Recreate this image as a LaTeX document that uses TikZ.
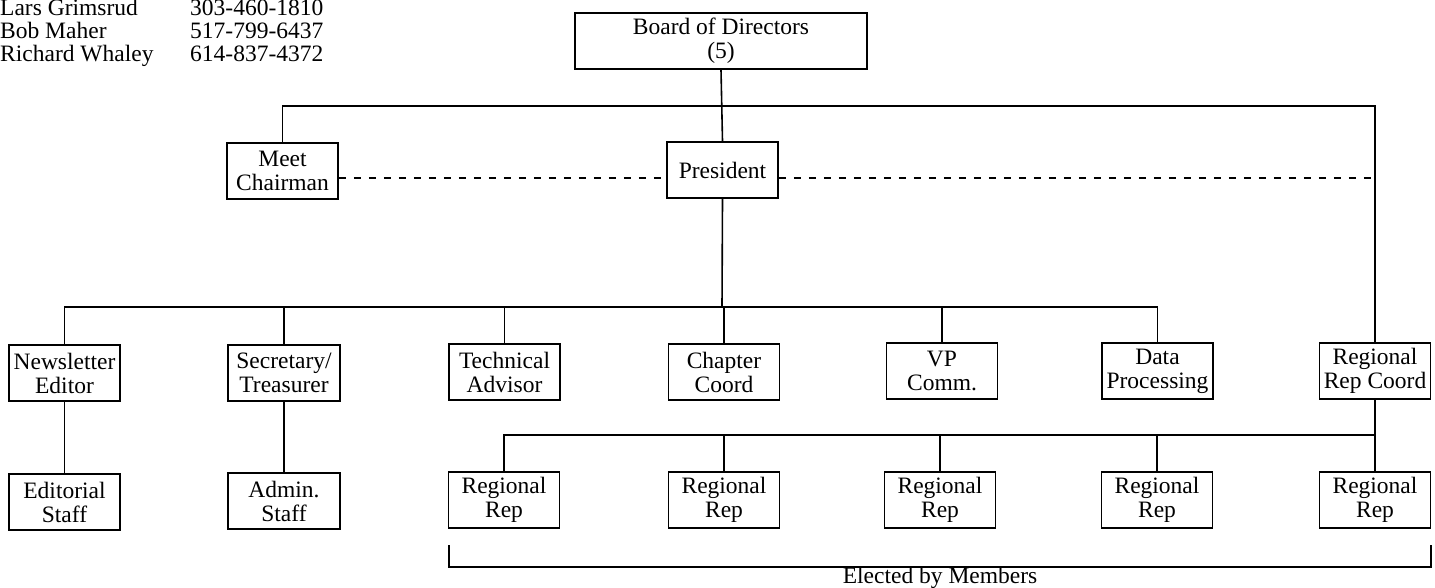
\documentclass[tikz,border=0pt]{standalone}
\usepackage{fontspec}
\setmainfont{Liberation Serif}

\begin{document}
\begin{tikzpicture}[x=1pt, y=-1pt,
            unit/.style={rectangle, draw, line width=1.7pt, minimum width=111pt, minimum height=56pt,
                    inner sep=0pt, align=center, font=\fontsize{23.5}{24}\selectfont},
            link/.style={line width=1.6pt},
            dash line/.style={line width=1.6pt, dash pattern=on 7pt off 8pt},
            contact/.style={anchor=base west, inner sep=0pt, font=\fontsize{23.5}{24}\selectfont}
        ]
        \useasboundingbox (0,0) rectangle (1435,588);

        % Contacts in the upper left corner
        \foreach \who/\tel [count=\n from 0] in {Lars Grimsrud/303-460-1810, Bob Maher/517-799-6437, Richard Whaley/614-837-4372} {
                \node[contact] (name\n) at (0,16+23*\n) {\who};
                \node[contact] (phone\n) at (190,16+23*\n) {\tel};
            }

        % Top of the chart
        \node[unit, minimum width=292pt] (board) at (721,41) {Board of Directors\\(5)};
        \node[unit] (meet) at (282.5,171) {Meet\\Chairman};
        \node[unit] (pres) at (722.5,170) {President};

        % Officers under the president
        \node[unit] (news) at (64.5,373) {Newsletter\\Editor};
        \node[unit, minimum width=112pt] (sec) at (284,373) {Secretary/\\Treasurer};
        \node[unit] (tech) at (504.5,372) {Technical\\Advisor};
        \node[unit] (chap) at (724,372) {Chapter\\Coord};
        \node[unit] (vp) at (942,371) {VP\\Comm.};
        \node[unit] (data) at (1157.5,371) {Data\\Processing};
        \node[unit] (rrc) at (1375,371) {Regional\\Rep Coord};

        % Staff and the regional reps
        \node[unit] (edit) at (64.5,502) {Editorial\\Staff};
        \node[unit, minimum width=112pt] (admin) at (284,501) {Admin.\\Staff};
        \foreach \x [count=\n from 1] in {504, 724, 940, 1157, 1375} {
                \node[unit] (reg\n) at (\x,500) {Regional\\Rep};
            }

        % Solid connections
        \coordinate (topbus) at (722,106);
        \coordinate (midbus) at (722,307);
        \coordinate (repbus) at (1375,435);
        \draw[link] (board.south) -- (pres.north);
        \draw[link] (meet.north) |- (topbus) -| (rrc.north);
        \draw[link] (pres.south) -- (midbus);
        \draw[link] (news.north) |- (midbus) -| (data.north);
        \foreach \officer in {sec, tech, chap, vp} {
                \draw[link] (\officer.north) -- (\officer.north |- midbus);
            }
        \draw[link] (news.south) -- (edit.north);
        \draw[link] (sec.south) -- (admin.north);
        \draw[link] (rrc.south) -- (reg5.north);
        \draw[link] (reg1.north) |- (repbus);
        \foreach \n in {2,...,4} {
                \draw[link] (reg\n.north) -- (reg\n.north |- repbus);
            }

        % Dashed line through the president
        \coordinate (dashend) at (1375,178);
        \draw[dash line] (meet.east |- dashend) -- (pres.west |- dashend);
        \draw[dash line] (pres.east |- dashend) -- (dashend);

        % Bracket under the regional reps
        \coordinate (brleft) at (449,545);
        \coordinate (brright) at (1431,545);
        \draw[link] (brleft) -- ++(0,22) -| (brright);
        \node[anchor=base, inner sep=0pt, font=\fontsize{23.5}{24}\selectfont] (elected) at (940,583) {Elected by Members};
    \end{tikzpicture}
\end{document}
